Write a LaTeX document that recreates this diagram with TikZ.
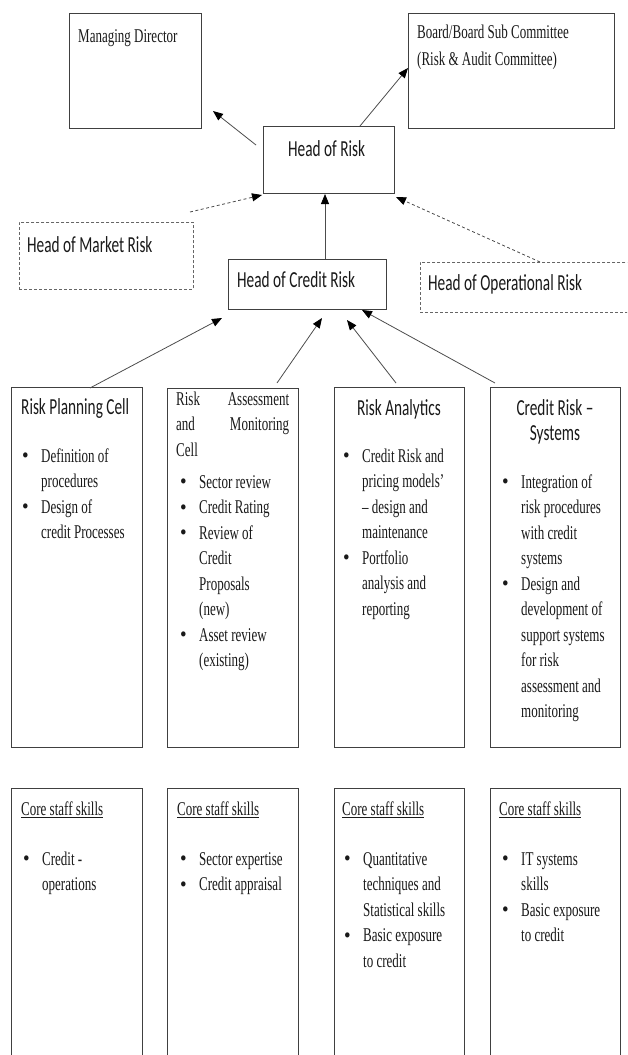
\documentclass[tikz,border=0pt]{standalone}
\usepackage{fontspec}
\setmainfont{Liberation Serif}
\newfontfamily\sansf[Ligatures=TeX]{Carlito}
\usetikzlibrary{arrows.meta}
\newcommand\vs[1]{\scalebox{1}[1.5]{#1}}
\newcommand\sertxt{\fontsize{13}{17}\selectfont}
\newcommand\santxt{\sansf\fontsize{15.3}{16.7}\selectfont}
\newcommand\bl{\makebox[19pt][l]{\raisebox{-0.6pt}{\scalebox{1.45}[1.1]{\textbullet}}}}
\newcommand\ind{\hspace*{19pt}}
\newcommand\blk[1]{\vs{\parbox[t]{200pt}{\raggedright\sertxt #1}}}
\begin{document}
\begin{tikzpicture}[x=1pt,y=-1pt,
  bx/.style={draw=black!75, line width=1.1pt, inner sep=0pt, anchor=north west},
  dbx/.style={draw=black!60, line width=0.9pt, dash pattern=on 3pt off 2pt, inner sep=0pt, anchor=north west},
  tb/.style={inner sep=0pt, anchor=base west, text=black!90},
  tc/.style={inner sep=0pt, anchor=base, text=black!90},
  arr/.style={draw=black!70, line width=0.8pt, -{Triangle[length=10pt,width=8pt,color=black]}},
  darr/.style={arr, dash pattern=on 3pt off 2.5pt}]
\useasboundingbox (0,0) rectangle (627,1055);
\clip (0,0) rectangle (627,1055);
% boxes
\node[bx, minimum width=132pt, minimum height=115pt] (md) at (69,13) {};
\node[bx, minimum width=206pt, minimum height=115pt] (board) at (408,13) {};
\node[bx, minimum width=131pt, minimum height=67pt] (hor) at (263,126) {};
\node[dbx, minimum width=174pt, minimum height=67pt] (hmr) at (19,222) {};
\node[bx, minimum width=158pt, minimum height=50pt] (hcr) at (228,259) {};
\node[dbx, minimum width=230pt, minimum height=50pt] (hopr) at (420,262) {};
\node[bx, minimum width=131pt, minimum height=360pt] (rpc) at (11,387) {};
\node[bx, minimum width=131pt, minimum height=359pt] (ramc) at (167,388) {};
\node[bx, minimum width=130pt, minimum height=360pt] (ra) at (334,387) {};
\node[bx, minimum width=130pt, minimum height=360pt] (crs) at (490,387) {};
\node[bx, minimum width=131pt, minimum height=290pt] (sk1) at (11,788) {};
\node[bx, minimum width=131pt, minimum height=290pt] (sk2) at (167,788) {};
\node[bx, minimum width=130pt, minimum height=290pt] (sk3) at (334,788) {};
\node[bx, minimum width=130pt, minimum height=290pt] (sk4) at (490,788) {};
% top texts
\node[tb] (mdT) at (78,42) {\vs{\sertxt Managing Director}};
\node[tb] (boardT) at (417,38) {\vs{\parbox[t]{200pt}{\raggedright\fontsize{13}{18}\selectfont Board/Board Sub Committee\\(Risk \& Audit Committee)}}};
\node[tb] (horT) at (288,156) {\vs{\santxt Head of Risk}};
\node[tb] (hmrT) at (27,252) {\vs{\santxt Head of Market Risk}};
\node[tb] (hcrT) at (237,287) {\vs{\santxt Head of Credit Risk}};
\node[tb] (hoprT) at (428,290) {\vs{\santxt Head of Operational Risk}};
% column titles
\node[tb] (rpcT) at (21,414) {\vs{\santxt Risk Planning Cell}};
\node[tb] (ramcT) at (176,405) {\vs{\parbox[t]{120pt}{\sertxt \makebox[113pt][s]{Risk\hfill Assessment}\\\makebox[113pt][s]{and\hfill Monitoring}\\Cell}}};
\node[tc] (raT) at (399,415) {\vs{\santxt Risk Analytics}};
\node[tc] (crsT) at (555,415) {\vs{\parbox[t]{120pt}{\centering\santxt Credit Risk \textendash\\Systems}}};
% column bullets
\node[tb] (rpcB) at (22,462) {\blk{\bl Definition of\\\ind procedures\\\bl Design of\\\ind credit Processes}};
\node[tb] (ramcB) at (180,488) {\blk{\bl Sector review\\\bl Credit Rating\\\bl Review of\\\ind Credit\\\ind Proposals\\\ind (new)\\\bl Asset review\\\ind (existing)}};
\node[tb] (raB) at (343,462) {\blk{\bl Credit Risk and\\\ind pricing models'\\\ind \textendash{} design and\\\ind maintenance\\\bl Portfolio\\\ind analysis and\\\ind reporting}};
\node[tb] (crsB) at (502,488) {\blk{\bl Integration of\\\ind risk procedures\\\ind with credit\\\ind systems\\\bl Design and\\\ind development of\\\ind support systems\\\ind for risk\\\ind assessment and\\\ind monitoring}};
% skills
\node[tb] (sk1T) at (21,815) {\vs{\sertxt \underline{Core staff skills}}};
\node[tb] (sk2T) at (177,815) {\vs{\sertxt \underline{Core staff skills}}};
\node[tb] (sk3T) at (342,815) {\vs{\sertxt \underline{Core staff skills}}};
\node[tb] (sk4T) at (499,815) {\vs{\sertxt \underline{Core staff skills}}};
\node[tb] (sk1B) at (23,865) {\blk{\bl Credit -\\\ind operations}};
\node[tb] (sk2B) at (180,865) {\blk{\bl Sector expertise\\\bl Credit appraisal}};
\node[tb] (sk3B) at (344,865) {\blk{\bl Quantitative\\\ind techniques and\\\ind Statistical skills\\\bl Basic exposure\\\ind to credit}};
\node[tb] (sk4B) at (502,865) {\blk{\bl IT systems\\\ind skills\\\bl Basic exposure\\\ind to credit}};
% connector endpoints
\coordinate (a1s) at (256,145); \coordinate (a1e) at (213,111);
\coordinate (a2s) at (360,126); \coordinate (a2e) at (408,68);
\coordinate (a3s) at (190,212); \coordinate (a3e) at (262,195);
\coordinate (a4s) at (325,259); \coordinate (a4e) at (325,194);
\coordinate (a5s) at (540,262); \coordinate (a5e) at (396,197);
\coordinate (a6s) at (90,388);  \coordinate (a6e) at (222,318);
\coordinate (a7s) at (277,383); \coordinate (a7e) at (322,318);
\coordinate (a8s) at (396,383); \coordinate (a8e) at (347,320);
\coordinate (a9s) at (495,383); \coordinate (a9e) at (362,310);
\draw[arr] (a1s) -- (a1e);
\draw[arr] (a2s) -- (a2e);
\draw[darr] (a3s) -- (a3e);
\draw[arr] (a4s) -- (a4e);
\draw[darr] (a5s) -- (a5e);
\draw[arr] (a6s) -- (a6e);
\draw[arr] (a7s) -- (a7e);
\draw[arr] (a8s) -- (a8e);
\draw[arr] (a9s) -- (a9e);
\end{tikzpicture}
\end{document}
